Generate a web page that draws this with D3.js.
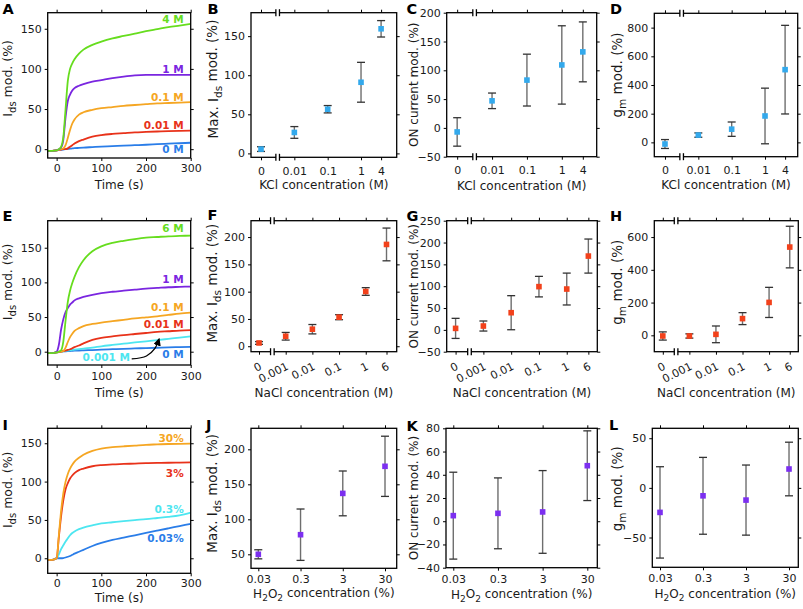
<!DOCTYPE html>
<html><head><meta charset="utf-8">
<script src="https://cdn.jsdelivr.net/npm/d3@7"></script>
<style>body{margin:0;background:#fff} svg{display:block}</style>
</head><body><svg id="c" width="803" height="609"></svg>
<script>
// ---------------- DATA ----------------
const timeGrid = [-20,-10,0,5,10,15,20,25,30,35,40,50,60,80,100,125,150,175,200,225,250,275,300];
const timeTicks = [0,100,200,300];

// Panel A (KCl)
const kclCurveLabels = ["4 M","1 M","0.1 M","0.01 M","0 M"];
const kclCurve4M  = [-2,-2,-1.5,0,3,15,50,85,100,107,112,119,124,130,134,138,141,144,147,149.5,152,154,156];
const kclCurve1M  = [-2,-2,-1.5,0,2,12,40,60,68,73,76,79,81,84,86,88.5,90.5,92,92.5,92.5,92.5,92.5,92.5];
const kclCurve01M = [-2,-2,-1.5,-1,0,1,5,14,24,32,37,43,46,49,51,52.5,54,55,56,57,57.5,58,58.5];
const kclCurve001M= [-2,-2,-1.5,-1,-0.5,0,0,1,3,5,7,10,12,15.5,17.5,19,20,21,21.5,22,22.5,22.8,23];
const kclCurve0M  = [-2,-2,-1.5,-1,-1,-0.5,0,0.3,0.6,0.9,1.2,1.6,2,2.6,3.2,3.8,4.5,5,5.5,6.2,6.8,7.4,8];
const kclLabelY = [157,95,60,25,-5];

// Panel E (NaCl)
const naclCurveLabels = ["6 M","1 M","0.1 M","0.01 M","0.001 M","0 M"];
const naclCurve6M   = [-2,-2,-1,0,2,15,45,72,88,99,108,122,132,145,152,157,160,162.5,164.5,165.5,166.5,167,167.5];
const naclCurve1M   = [-2,-2,0,10,32,47,57,63,68,71,74,77,79,82,84.5,86.5,88,89.5,91,92,93,93.5,94];
const naclCurve01M  = [-2,-2,-1,0,0,1,6,14,21,26,30,34,37,40,42,44,46,48,49.5,51,53,55,56.5];
const naclCurve001M = [-2,-2,-1,-0.5,0,1,1.5,2.5,3.5,5,6.5,9,12,17,20,22,24,25.5,27,28.5,29.5,30.5,31];
const naclCurve0001M= [-2,-2,-1,-0.5,0,0.5,1.2,1.6,2,2.5,2.9,3.7,4.5,6,7.8,9.7,11.5,13.3,15,16.8,18.5,20.2,22];
const naclCurve0M   = [-2,-2,-1,0,0.2,0.4,0.6,0.8,1,1.2,1.4,1.7,2,2.4,3,3.6,4.2,4.7,5.2,5.7,6.2,6.6,7];
const naclLabelY = [172,99,59,34,null,-9.5];
const naclNoteT = 164, naclNoteV = -14;            // "0.001 M" note position (data units)
const naclArrowT = [168,201,220,229];               // arrow path (data units)
const naclArrowV = [-10.5,-6.2,4.8,17.8];

// Panel I (H2O2)
const h2o2CurveLabels = ["30%","3%","0.3%","0.03%"];
const h2o2Curve30  = [-2,-2,0,30,62,85,100,110,117,122,126,131,135,140,143,145,146,147,148,148.5,149,149.3,149.5];
const h2o2Curve3   = [-2,-2,0,28,55,76,90,98,104,108,111,115,117,120,121.5,122.5,123,123.5,124,124.3,124.6,124.8,125];
const h2o2Curve03  = [-2,-2,0,5,12,17,22,26,30,33,35,38,40,43,45.5,47,48.5,49.8,51,52.5,54,56,59.5];
const h2o2Curve003 = [-2,-2,0,0,0,0.3,1,2,3,4.5,6,8.5,11,16,20,24,27,30,33,36,39,42,45];
const h2o2LabelY = [152,106,59,21];

// KCl summary
const kclConc = [0,0.01,0.1,1,4];
const kclTickLabels = ["0","0.01","0.1","1","4"];
const kclMaxIds = [5.5,26.8,56.5,91,159.4];
const kclMaxIdsErr = [3,7.5,4.7,25.5,10.5];
const kclOn = [-7,47,83,109.3,132];
const kclOnErr = [24.7,13.5,45,68,52];
const kclGm = [-11.5,50.7,92,184,507];
const kclGmErr = [31,15,50,194,309];

// NaCl summary
const naclConc = [0,0.001,0.01,0.1,1,6];
const naclTickLabels = ["0","0.001","0.01","0.1","1","6"];
const naclMaxIds = [6,18.3,31.2,53.2,100.3,186.5];
const naclMaxIdsErr = [2.5,7,8.6,4.6,7,30];
const naclOn = [3.4,8.8,39.3,99,93.5,169];
const naclOnErr = [23,11.5,39,23.5,36.5,39];
const naclGm = [-4,-4,6,102,201,539];
const naclGmErr = [25,13,51,36.5,92,127];

// H2O2 summary
const h2o2Conc = [0.03,0.3,3,30];
const h2o2TickLabels = ["0.03","0.3","3","30"];
const h2o2MaxIds = [50,78,137,175.7];
const h2o2MaxIdsErr = [6.5,36.7,32,43];
const h2o2On = [4.8,6.8,8,47.8];
const h2o2OnErr = [37.4,30.5,35.6,30];
const h2o2Gm = [-24.7,-8,-12.3,19];
const h2o2GmErr = [46,38.7,35.3,27];

// ---------------- DRAWING ----------------
const FONT = '"DejaVu Sans", Verdana, sans-serif';
const svg = d3.select("#c");
const C = {green:"#66dd1e", purple:"#7a26e0", orange:"#f5a623", red:"#e8321a", blue:"#2a7de8", cyan:"#4de6f0"};
const MK = {kcl:"#33a9ec", nacl:"#f2411b", h2o2:"#7c2ff0"};

function styleAxis(a){
  a.select(".domain").remove();
  a.selectAll(".tick line").attr("stroke","#000").attr("stroke-width",1);
  a.selectAll("text").attr("font-size",11).attr("font-family",FONT).attr("fill","#1a1a1a");
  return a;
}
function axes(cfg, x, y, xVals, xFmt){
  const [L,T,R,B] = cfg.box;
  const g = svg.append("g");
  styleAxis(g.append("g").attr("transform",`translate(${L},0)`)
    .call(d3.axisLeft(y).tickValues(cfg.yTicks).tickSize(3).tickPadding(3)));
  styleAxis(g.append("g").attr("transform",`translate(${R},0)`)
    .call(d3.axisRight(y).tickValues(cfg.yTicks).tickSize(3).tickFormat("")));
  const bx = styleAxis(g.append("g").attr("transform",`translate(0,${B})`)
    .call(d3.axisBottom(x).tickValues(xVals).tickSize(3).tickPadding(cfg.xPad).tickFormat(xFmt)));
  styleAxis(g.append("g").attr("transform",`translate(0,${T})`)
    .call(d3.axisTop(x).tickValues(xVals).tickSize(3).tickFormat("")));
  g.append("rect").attr("x",L).attr("y",T).attr("width",R-L).attr("height",B-T)
    .attr("fill","none").attr("stroke","#000").attr("stroke-width",1.3);
  // panel letter
  svg.append("text").attr("x",cfg.letterX).attr("y",cfg.letterY).text(cfg.letter)
    .attr("font-family",FONT).attr("font-weight","bold").attr("font-size",14.5).attr("fill","#000");
  // y title
  const yt = svg.append("text").attr("transform",`translate(${L-cfg.yOff},${(T+B)/2+(cfg.yShift||0)}) rotate(-90)`)
    .attr("text-anchor","middle").attr("font-family",FONT).attr("font-size",cfg.yTitle.size).attr("fill","#1a1a1a");
  addParts(yt, cfg.yTitle.parts, cfg.yTitle.sub);
  const xt = svg.append("text").attr("x",(L+R)/2).attr("y",cfg.xTitleY)
    .attr("text-anchor","middle").attr("font-family",FONT).attr("font-size",12).attr("fill","#1a1a1a");
  addParts(xt, cfg.xTitle, 9);
  return bx;
}
function addParts(t, parts, subSize){
  let sub = false;
  parts.forEach(p=>{
    const s = t.append("tspan").text(p[0]);
    if(p[1]==="sub"){ s.attr("font-size",subSize).attr("dy", sub? 0 : "0.38em"); sub = true; }
    else { if(sub){ s.attr("dy","-0.3em"); } sub = false; }
  });
}

function curvePanel(cfg){
  const [L,T,R,B] = cfg.box;
  const x = d3.scaleLinear().domain([-20,300]).range([L,R]);
  const y = d3.scaleLinear().domain(cfg.yDomain).range([B,T]);
  const id = "clip"+cfg.letter;
  svg.append("clipPath").attr("id",id).append("rect").attr("x",L).attr("y",T).attr("width",R-L).attr("height",B-T);
  const line = d3.line().x((d,i)=>x(timeGrid[i])).y(d=>y(d)).curve(d3.curveMonotoneX);
  const g = svg.append("g").attr("clip-path",`url(#${id})`);
  for(let i=cfg.series.length-1;i>=0;i--){
    g.append("path").attr("d",line(cfg.series[i])).attr("fill","none")
      .attr("stroke",cfg.colors[i]).attr("stroke-width",1.8).attr("stroke-linejoin","round");
  }
  axes(cfg, x, y, timeTicks, d=>d);
  cfg.labels.forEach((lab,i)=>{
    if(cfg.labelY[i]==null) return;
    svg.append("text").attr("x",x(300)-7).attr("y",y(cfg.labelY[i])).attr("text-anchor","end")
      .attr("font-family",FONT).attr("font-weight","bold").attr("font-size",10.5).attr("fill",cfg.colors[i]).text(lab);
  });
  return {x,y};
}

function catPanel(cfg){
  const [L,T,R,B] = cfg.box;
  const x = d3.scaleLog().domain(cfg.xDomain).range([L,R]);
  const y = d3.scaleLinear().domain(cfg.yDomain).range([B,T]);
  const pos = cfg.conc.map(c=> c===0 ? cfg.zeroAt : c);
  const bx = axes(cfg, x, y, pos, (d,i)=>cfg.tickLabels[i]);
  if(cfg.rotate){
    bx.selectAll("text").attr("text-anchor","end").attr("x",0).attr("y",0).attr("dy",0)
      .attr("transform","translate(3,17) rotate(-27)");
  }
  if(cfg.zeroAt){
    const bxp = x(Math.sqrt(cfg.zeroAt*cfg.conc[1]));
    [T,B].forEach(yy=>{
      svg.append("rect").attr("x",bxp-1.6).attr("y",yy-2).attr("width",3.2).attr("height",4).attr("fill","#fff");
      [-1.8,1.8].forEach(dx=> svg.append("line").attr("x1",bxp+dx).attr("x2",bxp+dx)
        .attr("y1",yy-3.5).attr("y2",yy+3.5).attr("stroke","#000").attr("stroke-width",1.3));
    });
  }
  const g = svg.append("g");
  const idx = d3.range(cfg.values.length);
  g.selectAll(".eb").data(idx).join("line")
    .attr("x1",i=>x(pos[i])).attr("x2",i=>x(pos[i]))
    .attr("y1",i=>y(cfg.values[i]+cfg.errs[i])).attr("y2",i=>y(cfg.values[i]-cfg.errs[i]))
    .attr("stroke","#6e6e6e").attr("stroke-width",1.4);
  [1,-1].forEach(sg=>{
    g.selectAll(".cap"+sg).data(idx).join("line")
      .attr("x1",i=>x(pos[i])-4).attr("x2",i=>x(pos[i])+4)
      .attr("y1",i=>y(cfg.values[i]+sg*cfg.errs[i])).attr("y2",i=>y(cfg.values[i]+sg*cfg.errs[i]))
      .attr("stroke","#333").attr("stroke-width",1.3);
  });
  g.selectAll(".mk").data(idx).join("rect")
    .attr("x",i=>x(pos[i])-2.8).attr("y",i=>y(cfg.values[i])-2.8).attr("width",5.6).attr("height",5.6)
    .attr("fill",cfg.color);
}

const maxIdsTitle = {parts:[["Max. "],["I"],["ds","sub"],[" mod. (%)"]], size:13.5, sub:10.5};
const idsTitle = {parts:[["I"],["ds","sub"],[" mod. (%)"]], size:12.5, sub:10};
const onTitle = {parts:[["ON current mod. (%)"]], size:12, sub:9};
const gmTitle = {parts:[["g"],["m","sub"],[" mod. (%)"]], size:13.5, sub:10.5};
const timeTitle = [["Time (s)"]];
const kclTitle = [["KCl concentration (M)"]];
const naclTitle = [["NaCl concentration (M)"]];
const h2o2Title = [["H"],["2","sub"],["O"],["2","sub"],[" concentration (%)"]];

// Row 1
curvePanel({letter:"A",letterX:2.5,letterY:14,box:[47.7,12.7,190.7,158],yDomain:[-11,170],yTicks:[0,50,100,150],
  xPad:3,yOff:35.5,yShift:-7,xTitleY:188.5,yTitle:idsTitle,xTitle:timeTitle,
  series:[kclCurve4M,kclCurve1M,kclCurve01M,kclCurve001M,kclCurve0M],
  colors:[C.green,C.purple,C.orange,C.red,C.blue],labels:kclCurveLabels,labelY:kclLabelY});
catPanel({letter:"B",letterX:207.5,letterY:14,box:[251,12.7,396.7,157.3],xDomain:[Math.pow(10,-3.3),Math.pow(10,1.07)],
  yDomain:[-5,180],yTicks:[0,50,100,150],xPad:7,yOff:33.5,yShift:-6,xTitleY:189,yTitle:maxIdsTitle,xTitle:kclTitle,
  conc:kclConc,tickLabels:kclTickLabels,zeroAt:1e-3,values:kclMaxIds,errs:kclMaxIdsErr,color:MK.kcl});
catPanel({letter:"C",letterX:406.5,letterY:14,box:[446.7,12.7,596.7,156.7],xDomain:[Math.pow(10,-3.3),Math.pow(10,1.0)],
  yDomain:[-50,200],yTicks:[-50,0,50,100,150,200],xPad:7,yOff:28.4,xTitleY:189.5,yTitle:onTitle,xTitle:kclTitle,
  conc:kclConc,tickLabels:kclTickLabels,zeroAt:1e-3,values:kclOn,errs:kclOnErr,color:MK.kcl});
catPanel({letter:"D",letterX:610,letterY:14,box:[654.3,13.3,797.7,156.7],xDomain:[Math.pow(10,-3.32),Math.pow(10,0.98)],
  yDomain:[-100,900],yTicks:[0,200,400,600,800],xPad:7,yOff:32.6,yShift:-10,xTitleY:189.3,yTitle:gmTitle,xTitle:kclTitle,
  conc:kclConc,tickLabels:kclTickLabels,zeroAt:1e-3,values:kclGm,errs:kclGmErr,color:MK.kcl});

// Row 2
const E = curvePanel({letter:"E",letterX:2.5,letterY:220.7,box:[47.7,220.7,190.7,365],yDomain:[-19.2,189],yTicks:[0,50,100,150],
  xPad:4.2,yOff:35.5,yShift:-11,xTitleY:396.7,yTitle:idsTitle,xTitle:timeTitle,
  series:[naclCurve6M,naclCurve1M,naclCurve01M,naclCurve001M,naclCurve0001M,naclCurve0M],
  colors:[C.green,C.purple,C.orange,C.red,C.cyan,C.blue],labels:naclCurveLabels,labelY:naclLabelY});
svg.append("text").attr("x",E.x(naclNoteT)).attr("y",E.y(naclNoteV)).attr("text-anchor","end")
  .attr("font-family",FONT).attr("font-weight","bold").attr("font-size",10.5).attr("fill",C.cyan).text(naclCurveLabels[4]);
svg.append("defs").append("marker").attr("id","ah").attr("viewBox","0 0 10 10").attr("refX",8).attr("refY",5)
  .attr("markerWidth",6).attr("markerHeight",6).attr("orient","auto")
  .append("path").attr("d","M0,0 L10,5 L0,10 z").attr("fill","#000");
svg.append("path").attr("d", d3.line().x((d,i)=>E.x(naclArrowT[i])).y(d=>E.y(d)).curve(d3.curveCatmullRom)(naclArrowV))
  .attr("fill","none").attr("stroke","#000").attr("stroke-width",1.3).attr("marker-end","url(#ah)");

catPanel({letter:"F",letterX:207.5,letterY:220,box:[251,220.7,396.7,351.7],xDomain:[Math.pow(10,-4.3),Math.pow(10,1.16)],
  yDomain:[-10,230],yTicks:[0,50,100,150,200],xPad:4,rotate:true,yOff:34.3,yShift:-3,xTitleY:396.5,yTitle:maxIdsTitle,xTitle:naclTitle,
  conc:naclConc,tickLabels:naclTickLabels,zeroAt:1e-4,values:naclMaxIds,errs:naclMaxIdsErr,color:MK.nacl});
catPanel({letter:"G",letterX:406.5,letterY:220.7,box:[446.7,220.7,597.3,351.7],xDomain:[Math.pow(10,-4.32),Math.pow(10,1.1)],
  yDomain:[-50,250],yTicks:[-50,0,50,100,150,200,250],xPad:4,rotate:true,yOff:28.4,xTitleY:396.5,yTitle:onTitle,xTitle:naclTitle,
  conc:naclConc,tickLabels:naclTickLabels,zeroAt:1e-4,values:naclOn,errs:naclOnErr,color:MK.nacl});
catPanel({letter:"H",letterX:610,letterY:220.7,box:[654.3,220.7,798.3,351.7],xDomain:[Math.pow(10,-4.32),Math.pow(10,1.1)],
  yDomain:[-100,700],yTicks:[0,200,400,600],xPad:4,rotate:true,yOff:32.6,yShift:-4,xTitleY:396.5,yTitle:gmTitle,xTitle:naclTitle,
  conc:naclConc,tickLabels:naclTickLabels,zeroAt:1e-4,values:naclGm,errs:naclGmErr,color:MK.nacl});

// Row 3
curvePanel({letter:"I",letterX:2.5,letterY:430,box:[47.7,428.3,190.7,573.3],yDomain:[-19.6,169.5],yTicks:[0,50,100,150],
  xPad:2.8,yOff:35.5,yShift:-11,xTitleY:601.5,yTitle:idsTitle,xTitle:timeTitle,
  series:[h2o2Curve30,h2o2Curve3,h2o2Curve03,h2o2Curve003],
  colors:[C.orange,C.red,C.cyan,C.blue],labels:h2o2CurveLabels,labelY:h2o2LabelY});
catPanel({letter:"J",letterX:206,letterY:430,box:[251,428.3,396.7,568.3],xDomain:[Math.pow(10,-1.696),Math.pow(10,1.754)],
  yDomain:[30,230],yTicks:[50,100,150,200],xPad:4.2,yOff:34.3,yShift:-5,xTitleY:597.7,yTitle:maxIdsTitle,xTitle:h2o2Title,
  conc:h2o2Conc,tickLabels:h2o2TickLabels,zeroAt:null,values:h2o2MaxIds,errs:h2o2MaxIdsErr,color:MK.h2o2});
catPanel({letter:"K",letterX:406.5,letterY:430.5,box:[446,428.3,597.3,567.7],xDomain:[Math.pow(10,-1.686),Math.pow(10,1.701)],
  yDomain:[-40,80],yTicks:[-40,-20,0,20,40,60,80],xPad:4.2,yOff:28.3,xTitleY:598.5,yTitle:onTitle,xTitle:h2o2Title,
  conc:h2o2Conc,tickLabels:h2o2TickLabels,zeroAt:null,values:h2o2On,errs:h2o2OnErr,color:MK.h2o2});
catPanel({letter:"L",letterX:609,letterY:430,box:[652.3,428.3,798.3,567.3],xDomain:[Math.pow(10,-1.702),Math.pow(10,1.693)],
  yDomain:[-80,60],yTicks:[-50,0,50],xPad:4.2,yOff:30.6,yShift:-9,xTitleY:598,yTitle:gmTitle,xTitle:h2o2Title,
  conc:h2o2Conc,tickLabels:h2o2TickLabels,zeroAt:null,values:h2o2Gm,errs:h2o2GmErr,color:MK.h2o2});
</script></body></html>
